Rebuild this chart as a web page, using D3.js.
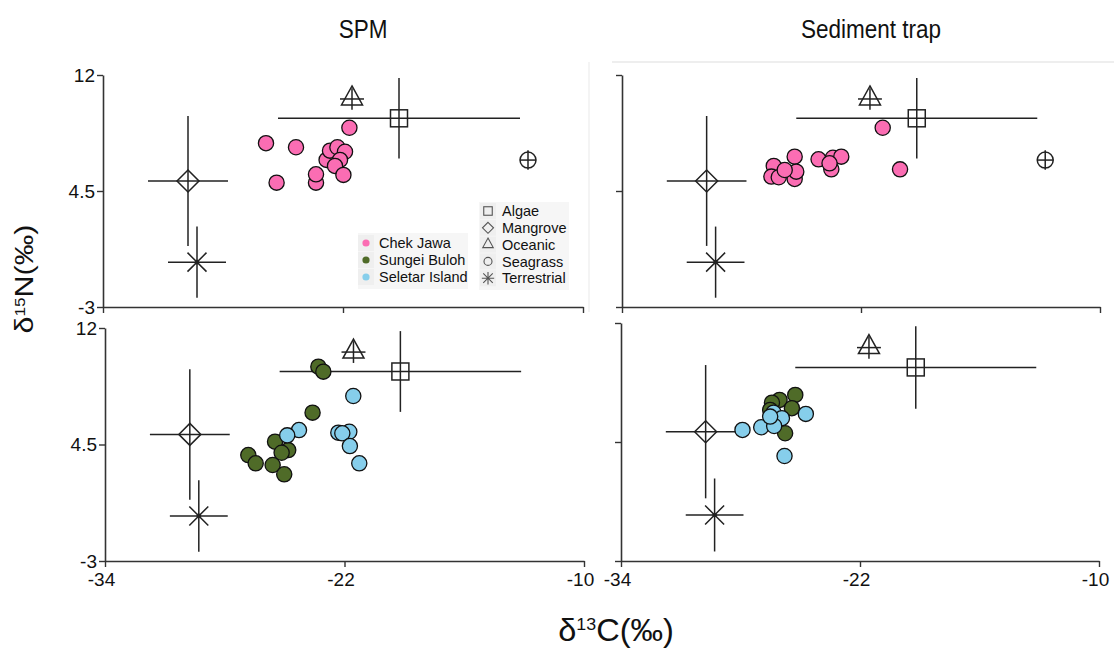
<!DOCTYPE html>
<html>
<head>
<meta charset="utf-8">
<script src="https://cdn.jsdelivr.net/npm/d3@7"></script>
<style>
  body { margin: 0; background: #fff; }
  svg { display: block; }
</style>
</head>
<body>
<div id="chart"></div>
<script>

// sources (mean +- sd), same in every panel
var sources = ["Algae", "Mangrove", "Oceanic", "Seagrass", "Terrestrial"];
var sourceC = [-19.2, -29.75, -21.55, -12.75, -29.3];
var sourceN = [9.2, 5.15, 10.45, 6.5, -0.1];
var sourceCsd = [6.05, 2.0, 0.6, 0.4, 1.45];
var sourceNsd = [2.6, 4.2, 0.7, 0.63, 2.3];

var sites = ["Chek Jawa", "Sungei Buloh", "Seletar Island"];
var siteColors = ["#fb6db3", "#4f6b28", "#86ceeb"];

// SPM, Chek Jawa
var spmChekC = [-25.85, -24.35, -25.32, -23.35, -23.35, -21.68, -22.82, -22.65, -22.28, -21.9, -22.15, -22.4, -21.98];
var spmChekN = [7.59, 7.33, 5.04, 5.04, 5.58, 8.59, 6.51, 7.11, 7.33, 7.04, 6.51, 6.12, 5.54];
// Sediment trap, Chek Jawa
var trapChekC = [-20.91, -20.04, -25.33, -26.38, -26.5, -26.13, -25.33, -25.25, -25.83, -24.13, -23.41, -22.99, -23.49, -23.58];
var trapChekN = [8.59, 5.9, 6.72, 6.12, 5.43, 5.39, 5.28, 5.75, 5.86, 6.55, 6.65, 6.72, 5.9, 6.29];
// SPM, Sungei Buloh / Seletar Island
var spmBulohC = [-23.31, -23.06, -23.6, -25.48, -24.82, -25.15, -26.82, -26.45, -25.6, -25.02];
var spmBulohN = [9.51, 9.19, 6.55, 4.68, 4.14, 3.97, 3.82, 3.29, 3.18, 2.58];
var spmSeletarC = [-21.56, -24.28, -24.87, -22.31, -21.76, -22.11, -21.73, -21.26];
var spmSeletarN = [7.62, 5.43, 5.09, 5.26, 5.32, 5.22, 4.4, 3.29];
// Sediment trap, Sungei Buloh / Seletar Island
var trapBulohC = [-25.25, -26.04, -26.42, -25.42, -25.76, -26.51];
var trapBulohN = [7.47, 7.15, 6.98, 6.63, 5.05, 6.52];
var trapSeletarC = [-27.9, -26.96, -26.34, -25.92, -24.72, -26.31, -25.79, -26.51];
var trapSeletarN = [5.26, 5.43, 6.35, 6.0, 6.27, 5.51, 3.62, 6.1];

var xTicks = [-34, -22, -10];
var yTicks = [12, 4.5, -3];

var width = 1114, height = 649;
var sans = "'Liberation Sans', Arial, sans-serif";

var svg = d3.select("#chart").append("svg")
  .attr("width", width)
  .attr("height", height);

// faint panel borders from the original figure
svg.append("line").attr("x1", 612).attr("x2", 1114).attr("y1", 62).attr("y2", 62)
  .attr("stroke", "#e8e8e8").attr("stroke-width", 1.5);
svg.append("line").attr("x1", 589).attr("x2", 589).attr("y1", 62).attr("y2", 312)
  .attr("stroke", "#f0f0f0").attr("stroke-width", 1.5);

// hyphen, not the unicode minus
var fmt = d => (d < 0 ? "-" : "") + Math.abs(d);

var panels = [
  {x0: 103, x1: 583, y0: 75, y1: 307, xlab: false, ylab: true, srcs: [0, 1, 2, 3, 4],
   groups: [{c: spmChekC, n: spmChekN, site: 0}]},
  {x0: 622, x1: 1100, y0: 75, y1: 307, xlab: false, ylab: false, srcs: [0, 1, 2, 3, 4],
   groups: [{c: trapChekC, n: trapChekN, site: 0}]},
  {x0: 105, x1: 584, y0: 328, y1: 561, xlab: true, ylab: true, srcs: [0, 1, 2, 4],
   groups: [{c: spmBulohC, n: spmBulohN, site: 1}, {c: spmSeletarC, n: spmSeletarN, site: 2}]},
  {x0: 621, x1: 1099, y0: 323, y1: 561, xlab: true, ylab: false, srcs: [0, 1, 2, 4],
   groups: [{c: trapBulohC, n: trapBulohN, site: 1}, {c: trapSeletarC, n: trapSeletarN, site: 2}]}
];

var ink = "#222";

function sourceMark(g, i, cx, cy, big) {
  var s = big ? 1 : 0.5;
  var name = sources[i];
  if (name == "Algae") {
    g.append("rect").attr("x", cx - 8.5 * s).attr("y", cy - 8.5 * s)
      .attr("width", 17 * s).attr("height", 17 * s);
  } else if (name == "Mangrove") {
    var d = 11 * s;
    g.append("path").attr("d", `M${cx},${cy - d}L${cx + d},${cy}L${cx},${cy + d}L${cx - d},${cy}Z`);
  } else if (name == "Oceanic") {
    var w = 10.5 * s;
    g.append("path").attr("d", `M${cx},${cy - 13 * s}L${cx + w},${cy + 6 * s}L${cx - w},${cy + 6 * s}Z`);
  } else if (name == "Seagrass") {
    g.append("circle").attr("cx", cx).attr("cy", cy).attr("r", 8 * s);
  } else {
    var a = 9.5 * s;
    g.append("path").attr("d", `M${cx - a},${cy - a}L${cx + a},${cy + a}M${cx - a},${cy + a}L${cx + a},${cy - a}`);
    if (!big) g.append("path").attr("d", `M${cx},${cy - a * 1.3}L${cx},${cy + a * 1.3}M${cx - a * 1.3},${cy}L${cx + a * 1.3},${cy}`);
    g.append("circle").attr("cx", cx).attr("cy", cy).attr("r", big ? 1.6 : 0.8).attr("fill", ink);
  }
}

panels.forEach(function(p) {
  var x = d3.scaleLinear().domain([-34, -10]).range([p.x0, p.x1]);
  var y = d3.scaleLinear().domain([-3, 12]).range([p.y1, p.y0]);

  var xAxis = svg.append("g")
    .attr("transform", `translate(0,${p.y1})`)
    .call(d3.axisBottom(x).tickValues(xTicks).tickSize(6).tickSizeOuter(0)
      .tickFormat(p.xlab ? fmt : ""));
  var yAxis = svg.append("g")
    .attr("transform", `translate(${p.x0},0)`)
    .call(d3.axisLeft(y).tickValues(yTicks).tickSize(6).tickSizeOuter(0)
      .tickFormat(p.ylab ? fmt : ""));
  [xAxis, yAxis].forEach(function(ax) {
    ax.select(".domain").attr("stroke", "#333").attr("stroke-width", 1.6);
    ax.selectAll(".tick line").attr("stroke", "#333").attr("stroke-width", 1.4);
    ax.selectAll(".tick text").attr("font-family", sans).attr("font-size", 19).attr("fill", "#111");
  });
  xAxis.selectAll(".tick text").attr("dy", "0.86em").attr("dx", -4);
  yAxis.selectAll(".tick text").attr("dx", 1);

  // sources with error bars
  var sg = svg.append("g").attr("fill", "none").attr("stroke", ink).attr("stroke-width", 1.5);
  p.srcs.forEach(function(i) {
    var cx = x(sourceC[i]), cy = y(sourceN[i]);
    sg.append("line").attr("x1", x(sourceC[i] - sourceCsd[i])).attr("x2", x(sourceC[i] + sourceCsd[i]))
      .attr("y1", cy).attr("y2", cy);
    sg.append("line").attr("x1", cx).attr("x2", cx)
      .attr("y1", y(sourceN[i] - sourceNsd[i])).attr("y2", y(sourceN[i] + sourceNsd[i]));
    sourceMark(sg, i, cx, cy, true);
  });

  // consumers
  p.groups.forEach(function(grp) {
    svg.append("g").selectAll("circle")
      .data(grp.c.map((c, k) => [c, grp.n[k]]))
      .enter().append("circle")
      .attr("cx", d => x(d[0]))
      .attr("cy", d => y(d[1]))
      .attr("r", 7.6)
      .attr("fill", siteColors[grp.site])
      .attr("stroke", "#111")
      .attr("stroke-width", 1.3);
  });
});

// legends inside the top-left panel
var lg = svg.append("g");
lg.append("rect").attr("x", 358).attr("y", 233).attr("width", 110).attr("height", 56).attr("fill", "#f6f6f6");
lg.append("rect").attr("x", 479).attr("y", 202).attr("width", 90).attr("height", 88).attr("fill", "#f6f6f6");

sites.forEach(function(s, i) {
  var cy = 243 + i * 17;
  lg.append("rect").attr("x", 358).attr("y", cy - 8).attr("width", 16).attr("height", 16).attr("fill", "#efefef");
  lg.append("circle").attr("cx", 366).attr("cy", cy).attr("r", 3.6).attr("fill", siteColors[i]);
  lg.append("text").attr("x", 379).attr("y", cy).attr("dy", "0.36em")
    .attr("font-family", sans).attr("font-size", 14.5).attr("fill", "#111").text(s);
});

var slg = lg.append("g").attr("fill", "none").attr("stroke", "#555").attr("stroke-width", 1.1);
sources.forEach(function(s, i) {
  var cy = 211 + i * 16.8;
  lg.insert("rect", "g").attr("x", 480).attr("y", cy - 8).attr("width", 16).attr("height", 16).attr("fill", "#efefef");
  sourceMark(slg, i, 488, cy, false);
  lg.append("text").attr("x", 502).attr("y", cy).attr("dy", "0.36em")
    .attr("font-family", sans).attr("font-size", 14.5).attr("fill", "#111").text(s);
});

// titles
svg.append("text").attr("transform", "translate(363,38) scale(0.9,1)").attr("text-anchor", "middle")
  .attr("font-family", sans).attr("font-size", 25).attr("fill", "#111").text("SPM");
svg.append("text").attr("transform", "translate(871,38) scale(0.9,1)").attr("text-anchor", "middle")
  .attr("font-family", sans).attr("font-size", 25).attr("fill", "#111").text("Sediment trap");

// axis titles
var xt = svg.append("text").attr("transform", "translate(616,641) scale(1.05,1)").attr("text-anchor", "middle")
  .attr("font-family", sans).attr("font-size", 31).attr("fill", "#111");
xt.append("tspan").text("δ");
xt.append("tspan").attr("font-size", 17).attr("dy", -11).text("13");
xt.append("tspan").attr("dy", 11).text("C(‰)");

var yt = svg.append("text").attr("transform", "translate(33,279) rotate(-90) scale(1.22,1)").attr("text-anchor", "middle")
  .attr("font-family", sans).attr("font-size", 25).attr("fill", "#111");
yt.append("tspan").text("δ");
yt.append("tspan").attr("font-size", 14).attr("dy", -8).text("15");
yt.append("tspan").attr("dy", 8).text("N(‰)");

</script>
</body>
</html>
